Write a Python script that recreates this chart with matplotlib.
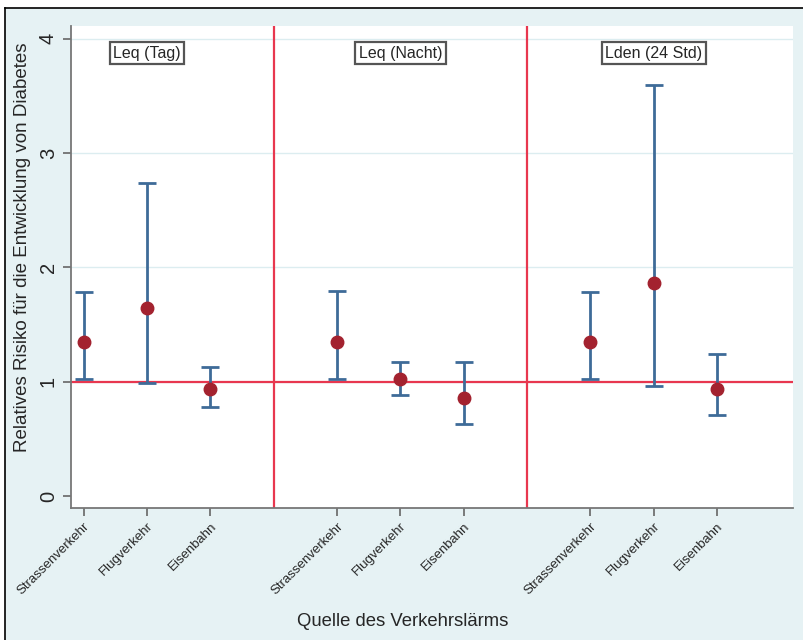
import numpy as np
import matplotlib
matplotlib.use("Agg")
import matplotlib.pyplot as plt
from matplotlib.lines import Line2D

plt.rcParams['font.family'] = ['Liberation Sans', 'DejaVu Sans']

# Data
sources = ["Strassenverkehr", "Flugverkehr", "Eisenbahn"]
groups = ["Leq (Tag)", "Leq (Nacht)", "Lden (24 Std)"]
rr = [1.35, 1.64, 0.94,
      1.35, 1.02, 0.86,
      1.35, 1.86, 0.94]
ci_low = [1.02, 0.99, 0.78,
          1.02, 0.88, 0.63,
          1.02, 0.96, 0.71]
ci_high = [1.78, 2.74, 1.13,
           1.79, 1.17, 1.17,
           1.78, 3.59, 1.24]

pos = np.array([1, 2, 3, 5, 6, 7, 9, 10, 11])
rr = np.array(rr)
lo = np.array(ci_low)
hi = np.array(ci_high)

BG = "#e6f2f4"
BLUE = "#3e6b98"
DARKRED = "#a3222f"
RED = "#e8374f"
TXT = "#262626"

fig = plt.figure(figsize=(8.04, 6.4), dpi=100)
fig.patch.set_facecolor("white")
# light panel with black top/left frame
W, H = 804, 640
fig.patches.append(plt.Rectangle((5 / W, 0), 1, 1 - 8 / H, transform=fig.transFigure,
                                 facecolor=BG, edgecolor="none", zorder=-10))
fig.lines.append(Line2D([5 / W, 5 / W], [0, 1 - 8 / H], transform=fig.transFigure,
                        color="black", lw=1.2, zorder=-5))
fig.lines.append(Line2D([5 / W, 1], [1 - 8 / H, 1 - 8 / H], transform=fig.transFigure,
                        color="black", lw=1.2, zorder=-5))

ax = fig.add_axes([71 / W, 1 - 508 / H, (793 - 71) / W, (508 - 26) / H])
ax.set_facecolor("white")

ax.set_xlim(0.8, 12.2)
ax.set_ylim(-0.105, 4.11)

for y in [1, 2, 3, 4]:
    ax.axhline(y, color="#dcedf0", lw=1, zorder=1)

ax.errorbar(pos, rr, yerr=[rr - lo, hi - rr], fmt="none", ecolor=BLUE,
            elinewidth=2, capsize=6.5, capthick=2, zorder=3)
ax.plot(pos, rr, "o", color=DARKRED, ms=9, zorder=4)

ax.axhline(1, color=RED, lw=1.6, zorder=2)
for x in [4, 8]:
    ax.axvline(x, color=RED, lw=1.6, zorder=2)

for i, g in enumerate(groups):
    ax.text(2 + 4 * i, 3.87, g, ha="center", va="center", fontsize=11.5, color=TXT,
            bbox=dict(boxstyle="square,pad=0.22", facecolor="white",
                      edgecolor="#555555", lw=1.6), zorder=5)

ax.set_yticks([0, 1, 2, 3, 4])
ax.set_yticklabels(["0", "1", "2", "3", "4"], rotation=90, va="center",
                   fontsize=14.5, color=TXT)
ax.set_xticks(pos)
ax.set_xticklabels(sources * 3, rotation=45, ha="right", rotation_mode="anchor",
                   fontsize=9.5, color=TXT)
ax.tick_params(axis="both", color="#666666", length=6, width=1.2)
ax.tick_params(axis="x", pad=3)

for s in ["top", "right"]:
    ax.spines[s].set_visible(False)
for s in ["left", "bottom"]:
    ax.spines[s].set_color("#777777")
    ax.spines[s].set_linewidth(1.3)

ax.set_ylabel("Relatives Risiko für die Entwicklung von Diabetes", fontsize=13.5,
              color=TXT)
ax.yaxis.set_label_coords(-0.056, 0.54)
fig.text(403 / W, 1 - 622 / H, "Quelle des Verkehrslärms", ha="center", va="center",
         fontsize=13.3, color=TXT)

plt.savefig("out.png", dpi=100, facecolor=fig.get_facecolor())
